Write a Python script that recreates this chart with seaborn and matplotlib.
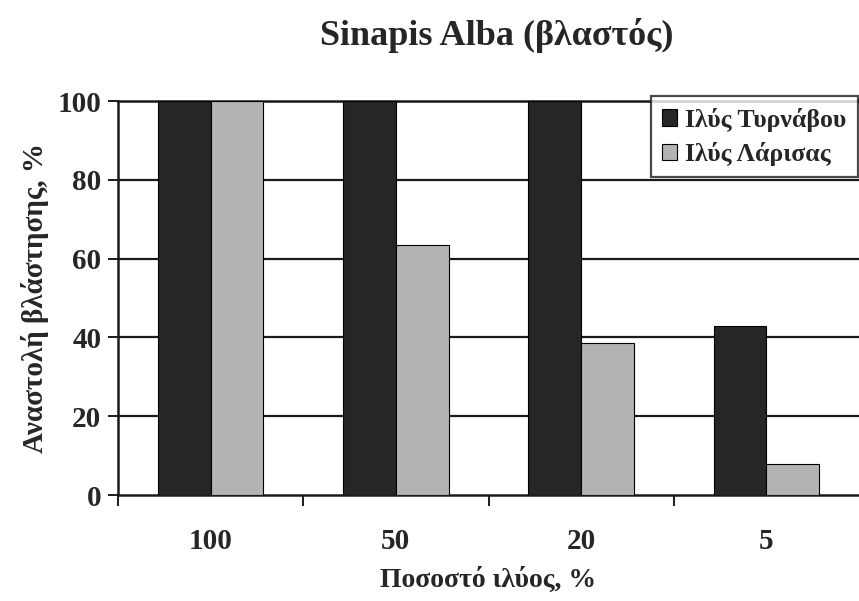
import matplotlib
matplotlib.use("Agg")
import matplotlib.pyplot as plt
import seaborn as sns
import pandas as pd
from matplotlib.ticker import FixedLocator

# data
categories = ["100", "50", "20", "5"]
tyrnavou = [100, 100, 100, 43]
larisas = [100, 63.5, 38.5, 7.8]
series_names = ["Ιλύς Τυρνάβου", "Ιλύς Λάρισας"]

df = pd.DataFrame({
    "cat": categories * 2,
    "val": tyrnavou + larisas,
    "series": [series_names[0]] * 4 + [series_names[1]] * 4,
})

sns.set_style("white")
plt.rcParams["font.family"] = ["Liberation Serif", "DejaVu Serif"]
plt.rcParams["font.weight"] = "bold"

fig = plt.figure(figsize=(8.59, 6.01), dpi=100)
ax = fig.add_axes([118 / 859, 106 / 601, 741 / 859, 394 / 601])

sns.barplot(data=df, x="cat", y="val", hue="series", order=categories,
            palette=["#262626", "#b3b3b3"], width=0.57, gap=0,
            edgecolor="black", linewidth=0.8, ax=ax, zorder=3)

ax.set_ylim(0, 100)
ax.set_xlim(-0.5, 3.5)
ax.set_yticks([0, 20, 40, 60, 80, 100])
for y in [20, 40, 60, 80, 100]:
    ax.axhline(y, color="#1a1a1a", lw=1.6, zorder=1)

for side in ["left", "bottom", "top"]:
    ax.spines[side].set_color("#1a1a1a")
    ax.spines[side].set_linewidth(1.8)
ax.spines["right"].set_visible(False)

ax.tick_params(axis="y", which="major", direction="out", length=7, width=1.4,
               labelsize=21, pad=5, left=True, color="#1a1a1a")
ax.tick_params(axis="x", which="major", length=0, labelsize=21, pad=24)
ax.xaxis.set_minor_locator(FixedLocator([-0.5, 0.5, 1.5, 2.5]))
ax.tick_params(axis="x", which="minor", direction="out", length=8, width=1.4,
               bottom=True, color="#1a1a1a")
for lbl in ax.get_xticklabels() + ax.get_yticklabels():
    lbl.set_fontweight("bold")

ax.set_xlabel("Ποσοστό ιλύος, %", fontsize=20, fontweight="bold", labelpad=8)
ax.set_ylabel("Αναστολή βλάστησης, %", fontsize=21, fontweight="bold", labelpad=6)
fig.suptitle("Sinapis Alba (βλαστός)", fontsize=26, fontweight="bold",
             x=0.578, y=0.97)

leg = ax.legend(loc="upper right", bbox_to_anchor=(858 / 859, 1 - 96 / 601),
                bbox_transform=fig.transFigure, fontsize=18.5, frameon=True,
                fancybox=False, edgecolor="#1a1a1a", handlelength=0.6,
                handleheight=0.6, handletextpad=0.3, borderpad=0.45,
                labelspacing=0.4, borderaxespad=0)
leg.get_frame().set_linewidth(1.6)
leg.set_zorder(5)
for t in leg.get_texts():
    t.set_fontweight("bold")

fig.savefig("out.png", dpi=100, facecolor="white")
